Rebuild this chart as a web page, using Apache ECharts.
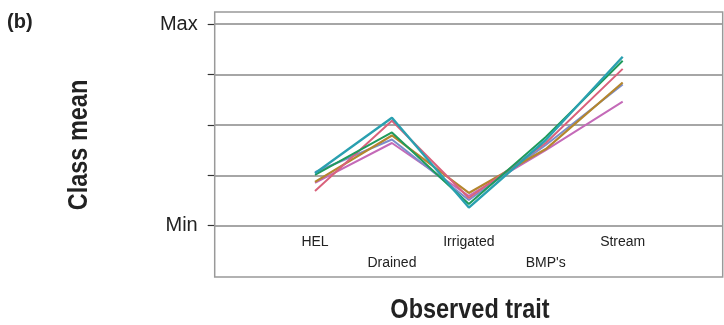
<!DOCTYPE html>
<html>
<head>
<meta charset="utf-8">
<script src="https://cdn.jsdelivr.net/npm/echarts@6/dist/echarts.min.js"></script>
<style>
html,body{margin:0;padding:0;background:#fff;}
#chart{width:724px;height:325px;}
</style>
</head>
<body>
<div id="chart"></div>
<script>
// Categories (observed traits)
const categories = ["HEL", "Drained", "Irrigated", "BMP's", "Stream"];
// Y scale: 0 = Min, 4 = Max
const yTicks = [0, 1, 2, 3, 4];
const yTickLabels = {0: "Min", 4: "Max"};
// Class means
const classMagenta = [0.85, 1.64, 0.59, 1.50, 2.46];
const classBlue    = [1.06, 1.71, 0.51, 1.60, 2.80];
const classBrown   = [0.87, 1.79, 0.65, 1.52, 2.84];
const classPink    = [0.69, 2.08, 0.55, 1.64, 3.11];
const classGreen   = [1.01, 1.85, 0.43, 1.76, 3.27];
const classTeal    = [1.04, 2.14, 0.36, 1.70, 3.35];

const seriesList = [
  {name: "Magenta", data: classMagenta, color: "#c46ab8", w: 2},
  {name: "Blue", data: classBlue, color: "#7b8dcc", w: 2},
  {name: "Brown", data: classBrown, color: "#b4862e", w: 2.2},
  {name: "Pink", data: classPink, color: "#d9627c", w: 2},
  {name: "Green", data: classGreen, color: "#1f9b5c", w: 2},
  {name: "Teal", data: classTeal, color: "#2aa0b0", w: 2.4}
];

const chart = echarts.init(document.getElementById('chart'), null, {renderer: 'canvas'});
const font = "'Liberation Sans', Arial, sans-serif";

chart.setOption({
  animation: false,
  backgroundColor: '#fff',
  textStyle: {fontFamily: font},
  grid: [
    {left: 214.7, right: 1, top: 24, bottom: 99.3},
    {left: 315, right: 101.3, top: 24, bottom: 99.3}
  ],
  xAxis: [
    {gridIndex: 0, type: 'value', min: 0, max: 1, show: false},
    {
      gridIndex: 1, type: 'category', data: categories, boundaryGap: false,
      axisLine: {show: false}, axisTick: {show: false}, splitLine: {show: false},
      axisLabel: {
        interval: 0, margin: 6, color: '#222', fontSize: 14, fontFamily: font,
        lineHeight: 21,
        formatter: function (v, i) { return i % 2 === 1 ? '\n' + v : v; }
      }
    }
  ],
  yAxis: [
    {
      gridIndex: 0, type: 'value', min: 0, max: 4, interval: 1,
      axisLine: {show: false},
      axisTick: {show: true, length: 7, lineStyle: {color: '#333', width: 1.2}},
      splitLine: {show: true, lineStyle: {color: '#888', width: 1.5}},
      axisLabel: {
        margin: 17, color: '#222', fontSize: 20, fontFamily: font,
        formatter: function (v) { return yTickLabels[v] !== undefined ? yTickLabels[v] : ''; }
      }
    },
    {gridIndex: 1, type: 'value', min: 0, max: 4, show: false}
  ],
  graphic: [
    {type: 'rect', shape: {x: 214.7, y: 12, width: 508, height: 265},
     style: {fill: null, stroke: '#999', lineWidth: 1.5}, z: 1},
    {type: 'text', left: 7, top: 12,
     style: {text: '(b)', font: "bold 20px " + font, fill: '#222'}},
    {type: 'text', x: 80, y: 145, rotation: Math.PI / 2, scaleX: 0.87,
     style: {text: 'Class mean', font: "bold 27px " + font, fill: '#222',
             textAlign: 'center', textVerticalAlign: 'middle'}},
    {type: 'text', x: 470, y: 311, scaleX: 0.87,
     style: {text: 'Observed trait', font: "bold 27px " + font, fill: '#222',
             textAlign: 'center', textVerticalAlign: 'middle'}}
  ],
  series: seriesList.map(function (s, k) {
    return {
      name: s.name, type: 'line', xAxisIndex: 1, yAxisIndex: 1,
      data: s.data, symbol: 'none', z: 3 + k,
      lineStyle: {color: s.color, width: s.w},
      itemStyle: {color: s.color}
    };
  })
});
</script>
</body>
</html>
